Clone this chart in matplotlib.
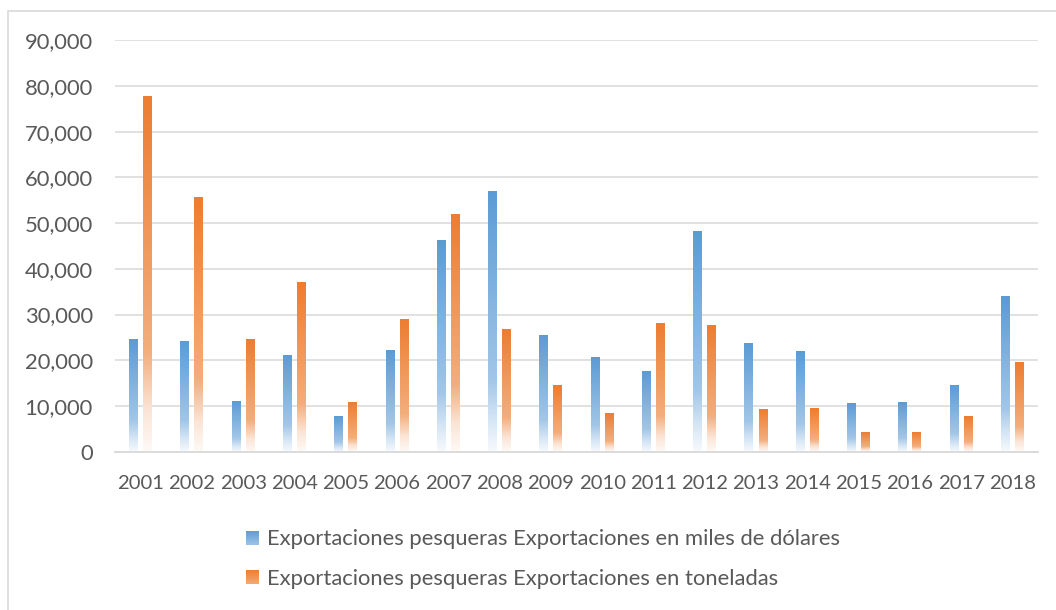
import numpy as np
import matplotlib
matplotlib.use('Agg')
import matplotlib.pyplot as plt
from matplotlib.colors import LinearSegmentedColormap
from matplotlib.patches import Rectangle
from matplotlib.legend_handler import HandlerBase
from matplotlib.ticker import FuncFormatter, MultipleLocator

years = [str(y) for y in range(2001, 2019)]
miles_dolares = [24650, 24220, 11090, 21150, 7810, 22250, 46310, 57030, 25530,
                 20720, 17650, 48280, 23780, 22030, 10650, 10870, 14590, 34060]
toneladas = [77820, 55720, 24650, 37120, 10870, 29030, 52000, 26840, 14590,
             8470, 28150, 27720, 9340, 9560, 4310, 4310, 7810, 19620]
series_labels = ['Exportaciones pesqueras Exportaciones en miles de dólares',
                 'Exportaciones pesqueras Exportaciones en toneladas']

TEXT = '#595959'
GRID = '#D9D9D9'
FS = 15.8
plt.rcParams['font.family'] = ['Lato', 'DejaVu Sans']

blue_cmap = LinearSegmentedColormap.from_list(
    'b', [(0, '#F7FAFD'), (0.12, '#D6E6F5'), (0.28, '#A2C6E7'), (1, '#5B9BD5')])
orange_cmap = LinearSegmentedColormap.from_list(
    'o', [(0, '#FEFAF7'), (0.12, '#FBE4D5'), (0.28, '#F3AE7D'), (1, '#ED7D31')])

fig = plt.figure(figsize=(10.56, 6.1), dpi=100)
ax = fig.add_axes([115/1056, 1-451.7/610, 923/1056, 411.4/610])

x = np.arange(len(years))
w = 0.175
off = 0.137
grad = np.linspace(0, 1, 256).reshape(-1, 1)

for vals, cmap, dx, lab in [(miles_dolares, blue_cmap, -off, series_labels[0]),
                            (toneladas, orange_cmap, off, series_labels[1])]:
    bars = ax.bar(x + dx, vals, width=w, color='none', edgecolor='none', label=lab)
    for b in bars:
        x0 = b.get_x(); h = b.get_height()
        ax.imshow(grad, cmap=cmap, origin='lower', aspect='auto',
                  extent=(x0, x0 + b.get_width(), 0, h), zorder=2, interpolation='bilinear')

ax.set_xlim(-0.5, len(years) - 0.5)
ax.set_ylim(0, 90000)
ax.yaxis.set_major_locator(MultipleLocator(10000))
ax.yaxis.set_major_formatter(FuncFormatter(lambda v, p: f'{v:,.0f}'))
ax.set_xticks(x)
ax.set_xticklabels(years)
ax.grid(axis='y', color=GRID, lw=1.1, zorder=0)
ax.set_axisbelow(True)
for s in ['left', 'right', 'top']:
    ax.spines[s].set_visible(False)
ax.spines['bottom'].set_color(GRID)
ax.spines['bottom'].set_linewidth(1.3)
ax.spines['bottom'].set_zorder(3)
ax.tick_params(axis='both', length=0, colors=TEXT)
ax.tick_params(axis='y', pad=16, labelsize=FS)
ax.tick_params(axis='x', pad=17, labelsize=14.6)


class GradHandler(HandlerBase):
    def __init__(self, cmap):
        super().__init__()
        self.cmap = cmap

    def create_artists(self, legend, orig_handle, xdescent, ydescent, width, height, fontsize, trans):
        n = 20
        arts = []
        for i in range(n):
            r = Rectangle((-xdescent, -ydescent + i * height / n), width, height / n + 0.01,
                          facecolor=self.cmap(0.35 + 0.65 * (i + 0.5) / n), lw=0, transform=trans)
            arts.append(r)
        return arts


handles = [Rectangle((0, 0), 1, 1), Rectangle((0, 0), 1, 1)]
leg = fig.legend(handles, series_labels, loc='center', bbox_to_anchor=(0.514, 0.0836),
                 frameon=False, fontsize=FS, labelcolor=TEXT, handlelength=0.6,
                 handleheight=0.6, handletextpad=0.35, labelspacing=0.88,
                 handler_map={handles[0]: GradHandler(blue_cmap), handles[1]: GradHandler(orange_cmap)})

fig.add_artist(Rectangle((8/1056, -0.05), 1.2, 1.05 - 11/610, transform=fig.transFigure,
                         facecolor='none', edgecolor=GRID, lw=1.2))

fig.savefig('out.png', dpi=100)
